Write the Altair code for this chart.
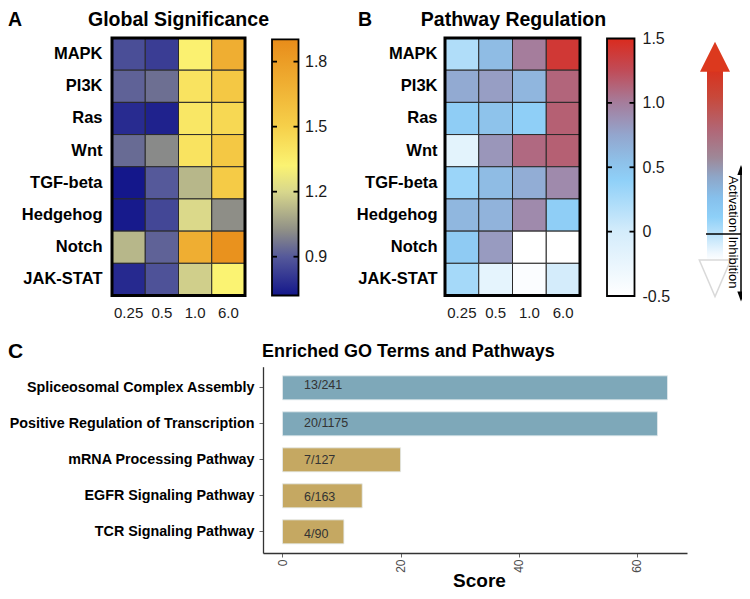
import altair as alt
import pandas as pd

# ------------------------------------------------------------------ data
pathways = ["MAPK", "PI3K", "Ras", "Wnt", "TGF-beta", "Hedgehog", "Notch", "JAK-STAT"]
concentrations = ["0.25", "0.5", "1.0", "6.0"]

# Panel A: global significance (rows = pathways, cols = concentrations)
significance = [
    [0.87, 0.825, 1.33, 1.70],
    [0.92, 0.95, 1.40, 1.55],
    [0.775, 0.75, 1.38, 1.46],
    [0.94, 1.01, 1.40, 1.55],
    [0.72, 0.90, 1.12, 1.53],
    [0.73, 0.85, 1.21, 1.02],
    [1.12, 0.92, 1.70, 1.87],
    [0.77, 0.88, 1.18, 1.32],
]
sig_stops = [0.721, 0.9, 1.02, 1.2, 1.32, 1.5, 1.903]
sig_colors = ["#14178B", "#55599A", "#8E8E87", "#D8D78C", "#FBF372", "#F6D04A", "#E88C1A"]
sig_ticks = [0.9, 1.2, 1.5, 1.8]

# Panel B: pathway regulation
regulation = [
    [0.21, 0.58, 1.00, 1.40],
    [0.72, 0.80, 0.63, 1.12],
    [0.43, 0.52, 0.41, 1.15],
    [-0.18, 0.85, 1.10, 1.15],
    [0.33, 0.58, 0.70, 0.92],
    [0.62, 0.65, 0.92, 0.42],
    [0.45, 0.82, -0.50, -0.50],
    [0.27, -0.20, -0.45, 0.00],
]
reg_stops = [-0.5, 0.0, 0.4, 0.55, 0.75, 1.0, 1.25, 1.5]
reg_colors = ["#FFFFFF", "#D4ECFB", "#8FD0F8", "#8EC0E8", "#93A6CE", "#A57D9C", "#C04C58", "#DA2B1E"]
reg_ticks = [-0.5, 0.0, 0.5, 1.0, 1.5]

# Panel C: enriched terms
terms = [
    "Spliceosomal Complex Assembly",
    "Positive Regulation of Transcription",
    "mRNA Processing Pathway",
    "EGFR Signaling Pathway",
    "TCR Signaling Pathway",
]
scores = [65.2, 63.5, 20.0, 13.5, 10.4]
gene_ratios = ["13/241", "20/1175", "7/127", "6/163", "4/90"]
term_types = ["GO term", "GO term", "Pathway", "Pathway", "Pathway"]
type_names = ["GO term", "Pathway"]
type_colors = ["#7EA8B9", "#C5A862"]
score_ticks = [0, 20, 40, 60]
score_domain = [-3.3, 68.5]

# arrow gradient (style)
arrow_stops = [(0, "#D8321E"), (0.14, "#C8483A"), (0.32, "#B06878"), (0.46, "#9E8898"),
               (0.56, "#8EA6C8"), (0.67, "#86C0EC"), (0.77, "#8ED0F8"), (0.88, "#C4E6FB"),
               (0.96, "#F0F8FE"), (1, "#FFFFFF")]

# ------------------------------------------------------------------ layout (px)
W, H = 734, 583
FONT = "Liberation Sans"
HY0, HY1 = 30, 287.5          # heatmap vertical extent
A_X0, A_X1 = 104, 237         # heatmap A
B_X0, B_X1 = 437, 572         # heatmap B
CA_X0, CA_X1 = 264, 290.5     # colorbar A
CB_X0, CB_X1 = 599, 626.5     # colorbar B
TITLE_Y = 17.5
LABEL_EXPR = ("datum.value == 0 ? '0' : (datum.value < 0 ? '-' + format(-datum.value, '.1f')"
              " : format(datum.value, '.1f'))")

one = pd.DataFrame({"k": [0]})


def heat_df(values):
    return pd.DataFrame([
        {"pathway": p, "conc": c, "value": v}
        for p, row in zip(pathways, values)
        for c, v in zip(concentrations, row)
    ])


def heatmap(values, stops, colors, x0, x1, label_pad):
    return alt.Chart(heat_df(values)).mark_rect(stroke="#2a2a2a", strokeWidth=1).encode(
        x=alt.X("conc:N", sort=concentrations,
                scale=alt.Scale(range=[x0, x1], paddingInner=0, paddingOuter=0),
                axis=alt.Axis(orient="bottom", offset=HY1 - H, title=None, domain=False,
                              ticks=False, tickSize=0, labelPadding=9.5, labelFontSize=15,
                              labelAngle=0, labelColor="#1a1a1a", labelOverlap=False)),
        y=alt.Y("pathway:N", sort=pathways,
                scale=alt.Scale(range=[HY0, HY1], paddingInner=0, paddingOuter=0),
                axis=alt.Axis(orient="left", offset=-x0, title=None, domain=False,
                              ticks=False, tickSize=0, labelPadding=label_pad,
                              labelFontSize=16.5, labelFontWeight="bold", labelLimit=0,
                              labelColor="black", labelOverlap=False)),
        color=alt.Color("value:Q", scale=alt.Scale(domain=stops, range=colors, interpolate="rgb"),
                        legend=None),
    )


def border(x0, x1, y0, y1, width):
    return alt.Chart(one).mark_rect(fillOpacity=0, stroke="black", strokeWidth=width).encode(
        x=alt.value(x0), x2=alt.value(x1), y=alt.value(y0), y2=alt.value(y1))


def colorbar(stops, colors, ticks, x0, x1, y_top, y_bot, label_pad):
    lo, hi = stops[0], stops[-1]
    yscale = alt.Scale(domain=[lo, hi], range=[y_bot, y_top], zero=False, nice=False)
    grad = alt.Gradient(
        gradient="linear", x1=0, x2=0, y1=1, y2=0,
        stops=[alt.GradientStop(offset=(s - lo) / (hi - lo), color=c) for s, c in zip(stops, colors)],
    )
    bar = alt.Chart(pd.DataFrame({"lo": [lo], "hi": [hi]})).mark_rect(
        fill=grad, stroke="black", strokeWidth=1.8).encode(
        y=alt.Y("lo:Q", scale=yscale,
                axis=alt.Axis(orient="right", offset=x1 - W, values=ticks, title=None,
                              domain=False, ticks=False, tickSize=0, labelPadding=label_pad,
                              labelFontSize=16, labelColor="#1a1a1a", labelOverlap=False,
                              labelExpr=LABEL_EXPR)),
        y2="hi:Q", x=alt.value(x0), x2=alt.value(x1))
    inner = pd.DataFrame({"v": [t for t in ticks if lo < t < hi]})
    tl = alt.Chart(inner).mark_rule(color="black", strokeWidth=1.8).encode(
        y=alt.Y("v:Q", scale=yscale, axis=None), x=alt.value(x0), x2=alt.value(x0 + 5))
    tr = alt.Chart(inner).mark_rule(color="black", strokeWidth=1.8).encode(
        y=alt.Y("v:Q", scale=yscale, axis=None), x=alt.value(x1 - 5), x2=alt.value(x1))
    return [bar, tl, tr]


def label(text, x, y, size, align="left", weight="bold", angle=0, color="black"):
    return alt.Chart(one).mark_text(
        align=align, baseline="alphabetic", fontSize=size, fontWeight=weight,
        angle=angle, color=color, font=FONT).encode(
        x=alt.value(x), y=alt.value(y), text=alt.value(text))


def tri(path, x, y, size, fill, stroke="black", sw=0):
    return alt.Chart(one).mark_point(shape=path, size=size, filled=True, fill=fill, opacity=1,
                                     stroke=stroke, strokeWidth=sw).encode(
        x=alt.value(x), y=alt.value(y))


# ------------------------------------------------------------------ panels A & B
heatA = heatmap(significance, sig_stops, sig_colors, A_X0, A_X1, 10)
heatB = heatmap(regulation, reg_stops, reg_colors, B_X0, B_X1, 8)
cbarA = colorbar(sig_stops, sig_colors, sig_ticks, CA_X0, CA_X1, 31.3, 287.5, 6)
cbarB = colorbar(reg_stops, reg_colors, reg_ticks, CB_X0, CB_X1, 30.5, 288, 7.5)

# arrow graphic
shaft_grad = alt.Gradient(gradient="linear", x1=0, x2=0, y1=0, y2=1,
                          stops=[alt.GradientStop(offset=o, color=c) for o, c in arrow_stops])
shaft = alt.Chart(one).mark_rect(fill=shaft_grad).encode(
    x=alt.value(699), x2=alt.value(715), y=alt.value(62), y2=alt.value(253))
head_up = tri("M0,-1L1,1L-1,1Z", 707, 48.7, 900, "#DC391E")
head_down = tri("M-0.855,-1L0.855,-1L0,1Z", 707, 270.3, 1347, "white", "#d9d9d9", 1.5)
hline = alt.Chart(one).mark_rule(color="black", strokeWidth=1.5).encode(
    x=alt.value(698), x2=alt.value(733), y=alt.value(226))
vline = alt.Chart(one).mark_rule(color="black", strokeWidth=1.5).encode(
    x=alt.value(733), y=alt.value(162), y2=alt.value(288))
tip_up = tri("M0,-1L0.73,1L-0.73,1Z", 733, 162, 100, "black")
tip_down = tri("M-0.73,-1L0.73,-1L0,1Z", 733, 288.5, 100, "black")
act = label("Activation", 721, 196, 13, align="center", weight="normal", angle=90)
inh = label("Inhibition", 721, 254.5, 13, align="center", weight="normal", angle=90)

# ------------------------------------------------------------------ panel C
bar_df = pd.DataFrame({"term": terms, "score": scores, "ratio": gene_ratios, "type": term_types})
y_bar_scale = alt.Scale(range=[358.7, 545], paddingInner=0.333, paddingOuter=0.254)
bars = alt.Chart(bar_df).mark_bar(stroke="#e3eaec", strokeWidth=0.8).encode(
    y=alt.Y("term:N", sort=terms, scale=y_bar_scale,
            axis=alt.Axis(orient="left", offset=-255, title=None, domain=True,
                          domainColor="#333333", domainWidth=1.3, ticks=True, tickSize=4,
                          tickColor="#666666", labelPadding=5, labelFontSize=14.3,
                          labelFontWeight="bold", labelColor="black", labelOverlap=False,
                          labelLimit=0)),
    x=alt.X("score:Q", scale=alt.Scale(domain=score_domain, range=[255, 679], zero=False, nice=False),
            axis=alt.Axis(orient="bottom", offset=545 - H, values=score_ticks, title="Score",
                          domain=True, domainColor="#333333", domainWidth=1.3, ticks=True,
                          tickSize=4, tickColor="#666666", labelAngle=270, labelAlign="right",
                          labelBaseline="middle", labelPadding=2, labelFontSize=12,
                          labelColor="#4D4D4D", labelFlush=False, labelOverlap=False,
                          titleFontSize=19, titleFontWeight="bold", titleColor="black",
                          titleX=471, titleY=33, titleBaseline="alphabetic")),
    x2=alt.datum(0),
    color=alt.Color("type:N", scale=alt.Scale(domain=type_names, range=type_colors), legend=None),
)
bar_text = alt.Chart(bar_df).mark_text(align="left", baseline="middle", fontSize=12.5,
                                       color="#333333", font=FONT).encode(
    y=alt.Y("term:N", sort=terms, scale=y_bar_scale, axis=None),
    x=alt.value(296),
    text="ratio:N",
)

# ------------------------------------------------------------------ titles
titles = [
    label("A", 0, TITLE_Y, 19.5),
    label("Global Significance", (A_X0 + A_X1) / 2, TITLE_Y, 19.5, align="center"),
    label("B", 350, TITLE_Y, 19.5),
    label("Pathway Regulation", (B_X0 + B_X1) / 2 + 1, TITLE_Y, 19.5, align="center"),
    label("C", 0, 350, 21),
    label("Enriched GO Terms and Pathways", 254, 349, 18),
]

layers = ([heatA, border(A_X0, A_X1, HY0, HY1, 3)] + cbarA +
          [heatB, border(B_X0, B_X1, HY0, HY1, 3)] + cbarB +
          [shaft, head_up, head_down, hline, vline, tip_up, tip_down, act, inh,
           bars, bar_text] + titles)

chart = alt.layer(*layers).resolve_scale(
    x="independent", y="independent", color="independent"
).resolve_axis(
    x="independent", y="independent"
).properties(
    width=W, height=H, padding=0,
    autosize=alt.AutoSizeParams(type="none"),
).configure(font=FONT).configure_view(strokeWidth=0).configure_axis(
    labelFont=FONT, titleFont=FONT)

chart.save("out.html", embed_options={"renderer": "svg", "actions": False})
